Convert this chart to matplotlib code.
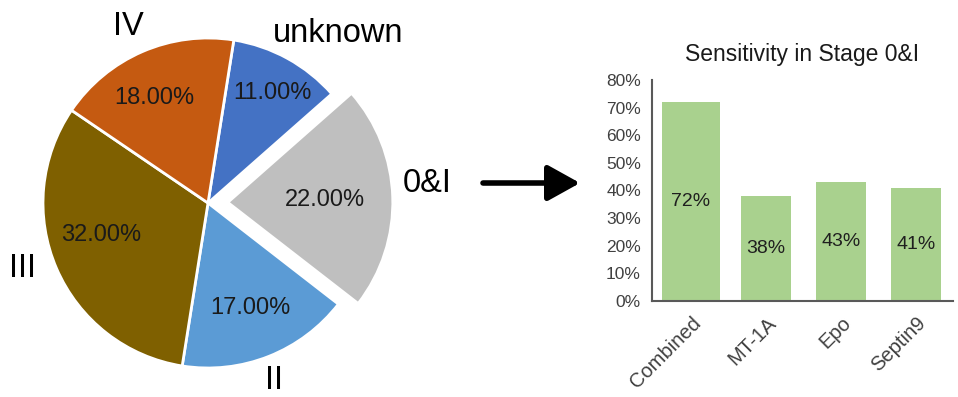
import matplotlib
matplotlib.use('Agg')
import matplotlib.pyplot as plt
from matplotlib.ticker import FuncFormatter

plt.rcParams['font.family'] = ['Liberation Sans', 'DejaVu Sans']

# stage distribution (clockwise from the top)
stages = ['unknown', '0&I', 'II', 'III', 'IV']
stage_share = [11, 22, 17, 32, 18]
stage_colors = ['#4472C4', '#BFBFBF', '#5B9BD5', '#7F6000', '#C55A11']
stage_explode = [0, 0.12, 0, 0, 0]

# sensitivity in stage 0&I
markers = ['Combined', 'MT-1A', 'Epo', 'Septin9']
sensitivity = [72, 38, 43, 41]
bar_widths = [0.77, 0.667, 0.667, 0.667]

W, H = 958, 397
fig = plt.figure(figsize=(W / 100, H / 100), dpi=100)

# pie axes covers the left part; 1 data unit = pie radius in pixels
R = 165.0
cx, cy = 208.0, 194.0
axp = fig.add_axes([0, 0, 480 / W, 1])
wedges, texts, autotexts = axp.pie(
    stage_share, labels=stages, colors=stage_colors, explode=stage_explode,
    startangle=81, counterclock=False, autopct='%1.2f%%', pctdistance=0.7,
    labeldistance=1.2,
    wedgeprops=dict(edgecolor='white', linewidth=2),
    textprops=dict(fontsize=17, color='#1a1a1a'))

# hand-placed label spots (pie radius units)
label_xy = [(0.788, 1.03), (1.327, 0.121), (0.40, -1.073), (-1.127, -0.394), (-0.485, 1.067)]
pct_xy = [(0.388, 0.667), (0.709, 0.018), (0.255, -0.636), (-0.648, -0.194), (-0.327, 0.636)]
for t, p in zip(texts, label_xy):
    t.set_fontsize(23.5)
    t.set_color('black')
    t.set_horizontalalignment('center')
    t.set_verticalalignment('center')
    t.set_position(p)
for t, p in zip(autotexts, pct_xy):
    t.set_position(p)
axp.set_xlim(-cx / R, (480 - cx) / R)
axp.set_ylim(-cy / R, (H - cy) / R)
axp.set_aspect('auto')

# arrow pointing from the pie to the bar chart
fig.add_artist(matplotlib.patches.FancyArrowPatch(
    (483 / W, 214 / H), (580 / W, 214 / H), transform=fig.transFigure,
    arrowstyle='-|>,head_length=0.9,head_width=0.5', mutation_scale=22,
    lw=4, color='black', shrinkA=0, shrinkB=0))

# bar chart
axb = fig.add_axes([652 / W, 96 / H, 301 / W, 221 / H])
pos = range(len(markers))
axb.bar(pos, sensitivity, width=bar_widths, color='#A9D18E')
for i, v in enumerate(sensitivity):
    axb.text(i, v / 2, f'{v}%', ha='center', va='center', fontsize=14, color='#1f1f1f')
axb.set_xlim(-0.52, 3.49)
axb.set_ylim(0, 80)
axb.set_yticks(range(0, 81, 10))
axb.yaxis.set_major_formatter(FuncFormatter(lambda v, p: f'{v:.0f}%'))
axb.set_xticks(list(pos))
axb.set_xticklabels(markers, rotation=45, ha='right', va='top', rotation_mode='anchor')
axb.tick_params(axis='both', length=0, colors='#404040')
axb.tick_params(axis='y', labelsize=12.5, pad=8)
axb.tick_params(axis='x', labelsize=14.5, pad=9)
for side in ['top', 'right']:
    axb.spines[side].set_visible(False)
for side in ['left', 'bottom']:
    axb.spines[side].set_color('#595959')
    axb.spines[side].set_linewidth(1.5)
axb.set_title('Sensitivity in Stage 0&I', fontsize=16.5, color='#1a1a1a', pad=14)

fig.savefig('out.png', dpi=100)
